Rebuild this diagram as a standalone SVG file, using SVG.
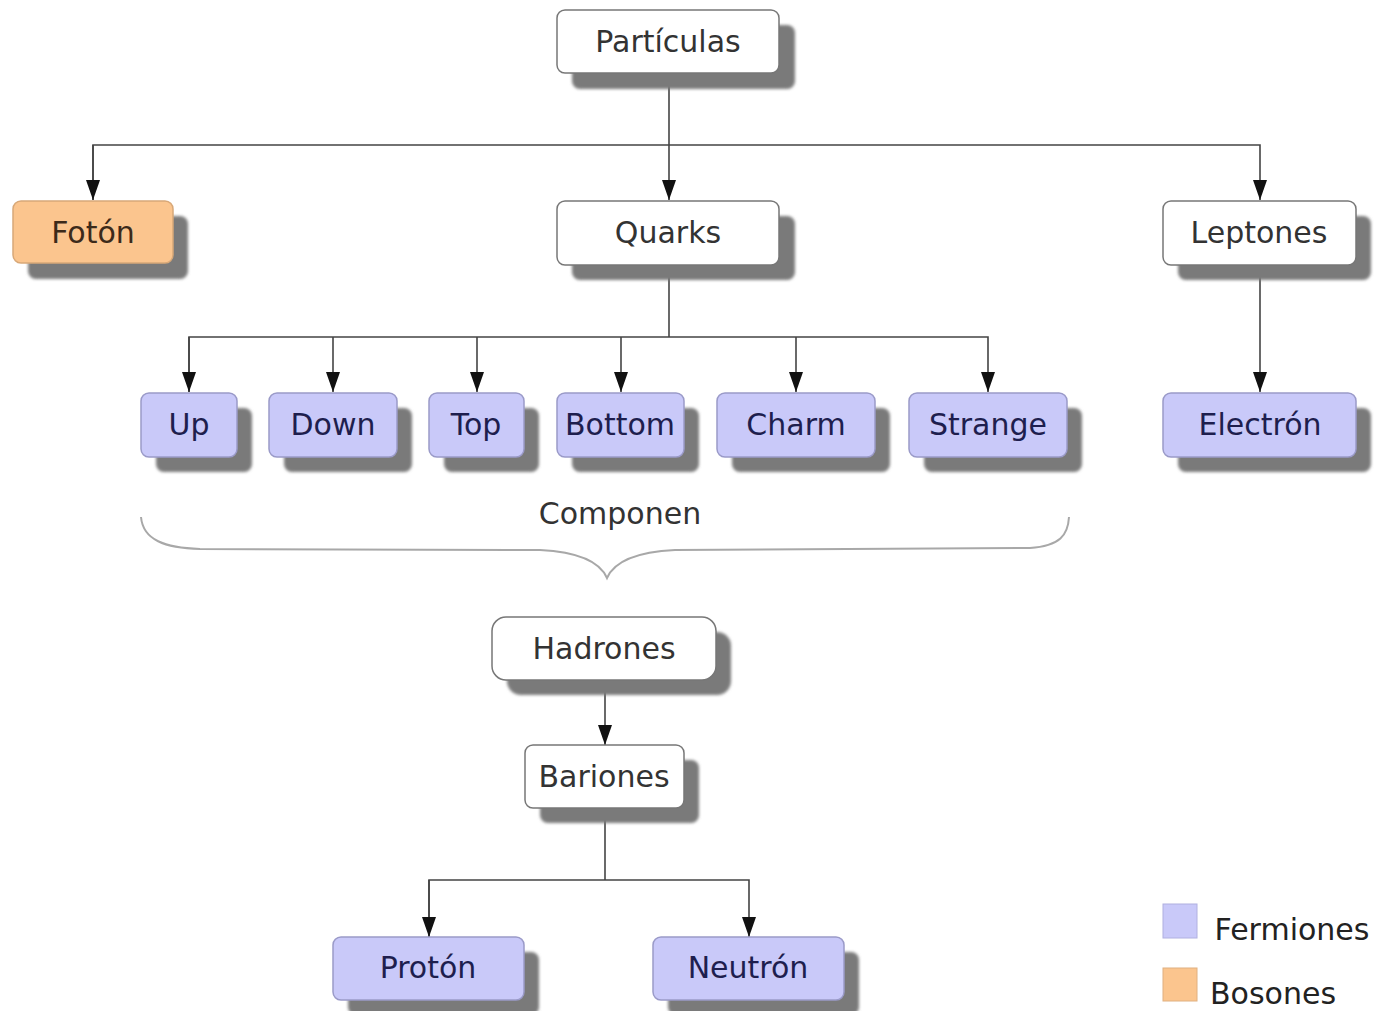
<svg xmlns="http://www.w3.org/2000/svg" width="1377" height="1011" viewBox="0 0 1377 1011">
<defs>
<marker id="arr" markerWidth="20" markerHeight="14" refX="20" refY="7" orient="auto" markerUnits="userSpaceOnUse" viewBox="0 0 20 14">
<path d="M0,0 L20,7 L0,14 Z" fill="#111"/>
</marker>
<filter id="blur" x="-10%" y="-10%" width="120%" height="130%"><feGaussianBlur stdDeviation="1.5"/></filter>
<style>
.sh{fill:#7a7a7a;filter:url(#blur)}
.w{fill:#ffffff;stroke:#777;stroke-width:1.5}
.f{fill:#c9c9f9;stroke:#9a9ac8;stroke-width:1.5}
.b{fill:#fbc58e;stroke:#d8a878;stroke-width:1.5}
text{font-family:"DejaVu Sans",Verdana,sans-serif;font-size:30px;text-anchor:middle}
.tw{fill:#333333}
.tf{fill:#1e1e4e}
.tb{fill:#3c2a1a}
.con{fill:none;stroke:#444;stroke-width:1.6}
</style>
</defs>
<rect width="1377" height="1011" fill="#ffffff"/>

<g id="connectors">
<path class="con" d="M669,73 V200" marker-end="url(#arr)"/>
<path class="con" d="M93,200 V145 H1260 V200" marker-end="url(#arr)"/>
<path class="con" d="M93,145 V200" marker-end="url(#arr)"/>
<path class="con" d="M669,265 V337"/>
<path class="con" d="M189,392 V337 H988 V392" marker-end="url(#arr)"/>
<path class="con" d="M189,337 V392" marker-end="url(#arr)"/>
<path class="con" d="M333,337 V392" marker-end="url(#arr)"/>
<path class="con" d="M477,337 V392" marker-end="url(#arr)"/>
<path class="con" d="M621,337 V392" marker-end="url(#arr)"/>
<path class="con" d="M796,337 V392" marker-end="url(#arr)"/>
<path class="con" d="M1260,265 V392" marker-end="url(#arr)"/>
<path class="con" d="M605,680 V745" marker-end="url(#arr)"/>
<path class="con" d="M605,808 V880"/>
<path class="con" d="M429,937 V880 H749 V937" marker-end="url(#arr)"/>
<path class="con" d="M429,880 V937" marker-end="url(#arr)"/>
</g>

<g id="n-particulas">
<rect class="sh" x="572" y="25" width="223" height="64" rx="8"/>
<rect class="w" x="557" y="10" width="222" height="63" rx="8"/>
<text class="tw" x="668" y="52">Partículas</text>
</g>
<g id="n-foton">
<rect class="sh" x="28" y="216" width="160" height="63" rx="8"/>
<rect class="b" x="13" y="201" width="160" height="62" rx="8"/>
<text class="tb" x="93" y="243">Fotón</text>
</g>
<g id="n-quarks">
<rect class="sh" x="572" y="216" width="223" height="64" rx="8"/>
<rect class="w" x="557" y="201" width="222" height="64" rx="8"/>
<text class="tw" x="668" y="243">Quarks</text>
</g>
<g id="n-leptones">
<rect class="sh" x="1178" y="216" width="193" height="64" rx="8"/>
<rect class="w" x="1163" y="201" width="193" height="64" rx="8"/>
<text class="tw" x="1259" y="243">Leptones</text>
</g>
<g id="n-up">
<rect class="sh" x="156" y="408" width="96" height="64" rx="8"/>
<rect class="f" x="141" y="393" width="96" height="64" rx="8"/>
<text class="tf" x="189" y="435">Up</text>
</g>
<g id="n-down">
<rect class="sh" x="284" y="408" width="128" height="64" rx="8"/>
<rect class="f" x="269" y="393" width="128" height="64" rx="8"/>
<text class="tf" x="333" y="435">Down</text>
</g>
<g id="n-top">
<rect class="sh" x="444" y="408" width="95" height="64" rx="8"/>
<rect class="f" x="429" y="393" width="95" height="64" rx="8"/>
<text class="tf" x="476" y="435">Top</text>
</g>
<g id="n-bottom">
<rect class="sh" x="572" y="408" width="127" height="64" rx="8"/>
<rect class="f" x="557" y="393" width="127" height="64" rx="8"/>
<text class="tf" x="620" y="435">Bottom</text>
</g>
<g id="n-charm">
<rect class="sh" x="732" y="408" width="158" height="64" rx="8"/>
<rect class="f" x="717" y="393" width="158" height="64" rx="8"/>
<text class="tf" x="796" y="435">Charm</text>
</g>
<g id="n-strange">
<rect class="sh" x="924" y="408" width="158" height="64" rx="8"/>
<rect class="f" x="909" y="393" width="158" height="64" rx="8"/>
<text class="tf" x="988" y="435">Strange</text>
</g>
<g id="n-electron">
<rect class="sh" x="1178" y="408" width="193" height="64" rx="8"/>
<rect class="f" x="1163" y="393" width="193" height="64" rx="8"/>
<text class="tf" x="1260" y="435">Electrón</text>
</g>

<g id="brace">
<path d="M141,517 C143,540 165,548 200,549 L540,550 C580,552 600,562 607,578 C614,562 634,552 675,550 L1030,548 C1060,546 1068,535 1069,517" fill="none" stroke="#a8a8a8" stroke-width="2"/>
<text class="tw" x="620" y="524">Componen</text>
</g>

<g id="n-hadrones">
<rect class="sh" x="507" y="632" width="224" height="63" rx="14"/>
<rect class="w" x="492" y="617" width="224" height="63" rx="14"/>
<text class="tw" x="604" y="659">Hadrones</text>
</g>
<g id="n-bariones">
<rect class="sh" x="540" y="760" width="159" height="63" rx="8"/>
<rect class="w" x="525" y="745" width="159" height="63" rx="8"/>
<text class="tw" x="604" y="787">Bariones</text>
</g>
<g id="n-proton">
<rect class="sh" x="348" y="952" width="191" height="63" rx="8"/>
<rect class="f" x="333" y="937" width="191" height="63" rx="8"/>
<text class="tf" x="428" y="978">Protón</text>
</g>
<g id="n-neutron">
<rect class="sh" x="668" y="952" width="191" height="63" rx="8"/>
<rect class="f" x="653" y="937" width="191" height="63" rx="8"/>
<text class="tf" x="748" y="978">Neutrón</text>
</g>

<g id="legend">
<rect x="1163" y="904" width="34" height="34" fill="#c9c9f9" stroke="#b0b0e0"/>
<text x="1292" y="940" fill="#222">Fermiones</text>
<rect x="1163" y="968" width="34" height="33" fill="#fbc58e" stroke="#e0b080"/>
<text x="1273" y="1004" fill="#222">Bosones</text>
</g>
</svg>
